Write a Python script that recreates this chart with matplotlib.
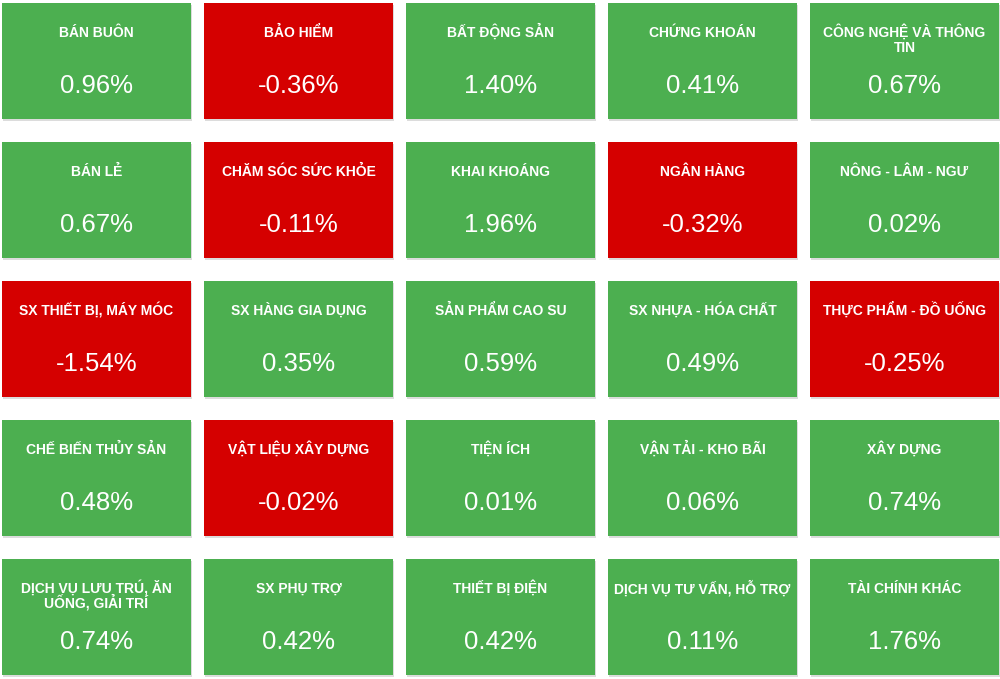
import matplotlib.pyplot as plt
from matplotlib.patches import Rectangle

plt.rcParams['font.family'] = ['Liberation Sans', 'DejaVu Sans']

# sector names (row by row) and daily change in %
sectors = ["BÁN BUÔN", "BẢO HIỂM", "BẤT ĐỘNG SẢN", "CHỨNG KHOÁN", "CÔNG NGHỆ VÀ THÔNG\nTIN",
           "BÁN LẺ", "CHĂM SÓC SỨC KHỎE", "KHAI KHOÁNG", "NGÂN HÀNG", "NÔNG - LÂM - NGƯ",
           "SX THIẾT BỊ, MÁY MÓC", "SX HÀNG GIA DỤNG", "SẢN PHẨM CAO SU", "SX NHỰA - HÓA CHẤT", "THỰC PHẨM - ĐỒ UỐNG",
           "CHẾ BIẾN THỦY SẢN", "VẬT LIỆU XÂY DỰNG", "TIỆN ÍCH", "VẬN TẢI - KHO BÃI", "XÂY DỰNG",
           "DỊCH VỤ LƯU TRÚ, ĂN\nUỐNG, GIẢI TRÍ", "SX PHỤ TRỢ", "THIẾT BỊ ĐIỆN", "DỊCH VỤ TƯ VẤN, HỖ TRỢ", "TÀI CHÍNH KHÁC"]
changes = [0.96, -0.36, 1.40, 0.41, 0.67,
           0.67, -0.11, 1.96, -0.32, 0.02,
           -1.54, 0.35, 0.59, 0.49, -0.25,
           0.48, -0.02, 0.01, 0.06, 0.74,
           0.74, 0.42, 0.42, 0.11, 1.76]

ncols = 5
green = '#4caf50'
red = '#d50000'

fig = plt.figure(figsize=(10, 6.79), dpi=100)
ax = fig.add_axes([0, 0, 1, 1])
ax.set_xlim(0, 1000)
ax.set_ylim(679, 0)
ax.axis('off')

w, h = 189, 116
for i, (name, val) in enumerate(zip(sectors, changes)):
    r, c = divmod(i, ncols)
    x0 = 2 + c * 202
    y0 = 3 + r * 139
    # soft shadow
    ax.add_patch(Rectangle((x0 + 1, y0 + 2), w, h, color='#dcdcdc', lw=0))
    ax.add_patch(Rectangle((x0, y0), w, h, color=green if val >= 0 else red, lw=0))
    # each label line on its own baseline so accents don't shift the text
    for k, line in enumerate(name.split('\n')):
        ax.text(x0 + w / 2, y0 + 34 + k * 15, line, ha='center', va='baseline',
                color='white', fontsize=10, fontweight='bold')
    ax.text(x0 + w / 2, y0 + 90, f"{val:.2f}%", ha='center', va='baseline',
            color='white', fontsize=18.5)

fig.savefig('out.png', dpi=100)
